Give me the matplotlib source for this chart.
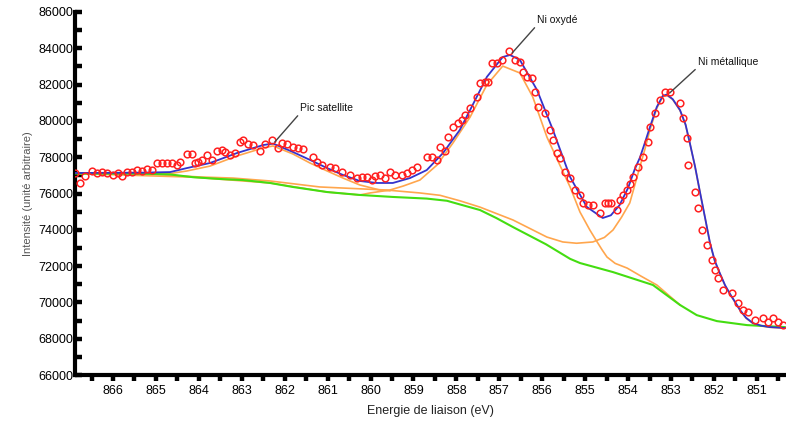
import matplotlib
matplotlib.use("Agg")
import matplotlib.pyplot as plt
from matplotlib.ticker import MultipleLocator

plt.rcParams['font.family'] = ['Liberation Sans', 'DejaVu Sans']

# ---------------- data ----------------
data_e = [866.88, 866.77, 866.65, 866.49, 866.37, 866.26, 866.14, 866.00, 865.88, 865.79,
          865.67, 865.56, 865.44, 865.32, 865.21, 865.09, 864.98, 864.86, 864.74, 864.63,
          864.51, 864.44, 864.28, 864.16, 864.09, 864.02, 863.93, 863.81, 863.69, 863.58,
          863.46, 863.39, 863.28, 863.16, 863.04, 862.97, 862.86, 862.74, 862.58, 862.46,
          862.30, 862.16, 862.06, 861.95, 861.81, 861.69, 861.58, 861.34, 861.25, 861.13,
          860.95, 860.83, 860.67, 860.48, 860.32, 860.20, 860.08, 859.97, 859.90, 859.78,
          859.66, 859.55, 859.43, 859.27, 859.15, 859.04, 858.92, 858.69, 858.57, 858.45,
          858.38, 858.27, 858.20, 858.08, 857.96, 857.87, 857.80, 857.68, 857.52, 857.45,
          857.33, 857.26, 857.17, 857.05, 856.94, 856.78, 856.64, 856.52, 856.45, 856.36,
          856.24, 856.17, 856.10, 855.94, 855.82, 855.75, 855.66, 855.59, 855.47, 855.35,
          855.24, 855.12, 855.05, 854.94, 854.82, 854.66, 854.54, 854.47, 854.39, 854.26,
          854.19, 854.12, 854.03, 853.96, 853.89, 853.77, 853.65, 853.54, 853.49, 853.38,
          853.26, 853.14, 853.03, 852.79, 852.72, 852.63, 852.61, 852.44, 852.37, 852.28,
          852.16, 852.05, 851.98, 851.91, 851.79, 851.58, 851.44, 851.33, 851.21, 851.05,
          850.86, 850.74, 850.63, 850.51, 850.39]
data_i = [77130, 76580, 76960, 77240, 77130, 77180, 77130, 77020, 77130, 76960,
          77180, 77180, 77290, 77240, 77350, 77290, 77680, 77680, 77680, 77680,
          77570, 77730, 78180, 78180, 77680, 77730, 77840, 78120, 77840, 78340,
          78400, 78290, 78120, 78230, 78840, 78950, 78730, 78670, 78340, 78730,
          78950, 78510, 78780, 78730, 78560, 78510, 78450, 78010, 77730, 77570,
          77460, 77400, 77180, 77020, 76850, 76910, 76910, 76740, 76960, 77020,
          76850, 77180, 77020, 77020, 77130, 77290, 77460, 78010, 78010, 77840,
          78560, 78340, 79110, 79660, 79880, 80050, 80330, 80710, 81320, 82090,
          82140, 82140, 83190, 83190, 83360, 83850, 83360, 83250, 82690, 82420,
          82360, 81590, 80770, 80430, 79500, 78950, 78230, 77960, 77180, 76850,
          76190, 75920, 75480, 75370, 75370, 74930, 75480, 75480, 75480, 75090,
          75640, 75910, 76190, 76500, 76910, 77460, 78010, 78840, 79660, 80430,
          81150, 81590, 81590, 80990, 80160, 79060, 77570, 76080, 75200, 73990,
          73160, 72340, 71780, 71340, 70680, 70520, 69970, 69580, 69470, 69030,
          69140, 68920, 69140, 68920, 68750]

fit_e = [866.88, 865.30, 864.67, 864.28, 863.74, 863.11, 862.50, 862.27, 861.81, 861.41,
         861.01, 860.64, 860.25, 859.85, 859.48, 859.08, 858.69, 858.31, 857.92, 857.68,
         857.29, 856.92, 856.75, 856.52, 856.12, 855.75, 855.35, 854.96, 854.59, 854.40,
         854.20, 854.00, 853.85, 853.72, 853.60, 853.49, 853.33, 853.19, 853.10, 852.96,
         852.79, 852.66, 852.56, 852.44, 852.32, 852.20, 852.09, 851.98, 851.86, 851.74,
         851.62, 851.50, 851.39, 851.25, 851.09, 850.90, 850.70, 850.35]
fit_i = [77130, 77150, 77180, 77400, 77680, 78230, 78670, 78750, 78290, 77850,
         77400, 77020, 76690, 76580, 76580, 76850, 77290, 78230, 79500, 80600,
         82420, 83520, 83630, 83360, 81700, 79500, 76910, 75260, 74650, 74800,
         75350, 76300, 77300, 78000, 78850, 79660, 80770, 81380, 81450, 81200,
         80600, 79800, 78780, 77500, 76030, 74600, 73270, 72300, 71600, 70950,
         70450, 70000, 69580, 69150, 68860, 68720, 68640, 68590]

bg_e = [866.88, 865.30, 864.67, 864.14, 863.51, 862.97, 862.34, 861.81, 861.01, 860.25,
        859.48, 858.69, 858.22, 857.92, 857.45, 857.07, 856.68, 855.91, 855.35, 855.12,
        854.35, 853.42, 852.79, 852.40, 851.93, 851.23, 850.35]
bg_i = [77100, 77090, 77050, 76900, 76800, 76740, 76580, 76360, 76080, 75920,
        75810, 75720, 75600, 75400, 75090, 74650, 74150, 73200, 72400, 72170,
        71670, 70960, 69860, 69300, 68970, 68750, 68640]

sat_e = [866.88, 865.30, 864.67, 864.28, 863.74, 863.11, 862.50, 862.27, 861.81, 861.41,
         861.01, 860.64, 860.25, 859.78, 859.55]
sat_i = [77100, 77090, 77100, 77240, 77510, 78070, 78510, 78620, 78180, 77680,
         77240, 76850, 76470, 76190, 76150]

ox_e = [866.88, 864.14, 862.34, 861.01, 860.25, 860.01, 859.55, 859.24, 858.85, 858.45,
        858.08, 857.68, 857.29, 856.92, 856.52, 856.22, 855.89, 855.59, 855.35, 855.12,
        854.89, 854.72, 854.60, 854.49, 854.30, 854.02, 853.70, 853.33, 852.79]
ox_i = [77100, 76900, 76580, 76080, 75920, 76030, 76190, 76410, 76740, 77570,
        78780, 80210, 81980, 83020, 82640, 81320, 79110, 77570, 76360, 74980,
        73990, 73330, 72880, 72500, 72150, 71890, 71450, 70960, 69860]

met_e = [866.88, 865.30, 863.97, 863.20, 862.34, 861.18, 859.62, 858.85, 858.38, 857.92,
         857.45, 856.68, 855.89, 855.52, 855.20, 854.82, 854.55, 854.35, 854.15, 853.96,
         853.85, 853.72, 853.60, 853.49, 853.33, 853.19, 853.10, 852.96, 852.79, 852.66,
         852.56, 852.44, 852.32, 852.20, 852.09, 851.98, 851.86, 851.74, 851.62, 851.50,
         851.39, 851.25, 851.09, 850.90, 850.70, 850.35]
met_i = [77100, 77090, 76910, 76850, 76690, 76360, 76190, 76030, 75900, 75600,
         75250, 74540, 73600, 73330, 73260, 73330, 73580, 73990, 74700, 75480,
         76400, 77500, 78500, 79500, 80700, 81330, 81420, 81180, 80580, 79780,
         78760, 77480, 76010, 74580, 73250, 72280, 71580, 70930, 70430, 69980,
         69560, 69130, 68840, 68700, 68630, 68580]

x_ticks = [866, 865, 864, 863, 862, 861, 860, 859, 858, 857, 856, 855, 854, 853, 852, 851]
y_ticks = [66000, 68000, 70000, 72000, 74000, 76000, 78000, 80000, 82000, 84000, 86000]

labels = ["Pic satellite", "Ni oxydé", "Ni métallique"]
label_xy = [(862.23, 78840), (856.70, 83740), (853.03, 81540)]
label_txt = [(861.64, 80710), (856.12, 85560), (852.37, 83245)]

# ---------------- figure ----------------
fig = plt.figure(figsize=(7.86, 4.25), dpi=100)
ax = fig.add_axes([0.0954, 0.1176, 0.9046, 0.8542])

orange = '#ffa64d'
ax.plot(sat_e, sat_i, color=orange, lw=1.2, zorder=2)
ax.plot(ox_e, ox_i, color=orange, lw=1.2, zorder=2)
ax.plot(met_e, met_i, color=orange, lw=1.2, zorder=2)
ax.plot(bg_e, bg_i, color='#44dd11', lw=1.5, zorder=3)
ax.plot(fit_e, fit_i, color='#3333cc', lw=1.3, zorder=4)
ax.plot(data_e, data_i, linestyle='none', marker='o', ms=4.8, mfc='none',
        mec='#ff2020', mew=1.1, zorder=5)

for lab, xy, xt in zip(labels, label_xy, label_txt):
    ax.annotate(lab, xy=xy, xytext=xt, ha='left', va='center', fontsize=7.5,
                color='#111111',
                arrowprops=dict(arrowstyle='-', color='#444444', lw=1.0,
                                relpos=(0, 0), shrinkA=0, shrinkB=0), zorder=6)

ax.set_xlim(866.885, 850.32)
ax.set_ylim(66000, 86000)
ax.set_xticks(x_ticks)
ax.set_xticklabels([str(v) for v in x_ticks])
ax.xaxis.set_minor_locator(MultipleLocator(0.5))
ax.set_yticks(y_ticks)
ax.set_yticklabels([str(v) for v in y_ticks])
ax.yaxis.set_minor_locator(MultipleLocator(1000))

for s in ['top', 'right']:
    ax.spines[s].set_visible(False)
for s in ['left', 'bottom']:
    ax.spines[s].set_linewidth(3.0)
    ax.spines[s].set_color('black')

ax.tick_params(axis='x', which='both', direction='out', length=4, width=3.2,
               labelsize=9, pad=3)
ax.tick_params(axis='y', which='both', direction='in', length=5, width=3.2,
               labelsize=9, pad=1)

ax.set_xlabel('Energie de liaison (eV)', fontsize=9, color='#222222', labelpad=6)
ax.set_ylabel('Intensité (unité arbitraire)', fontsize=8, color='#555555', labelpad=4)

fig.savefig('out.png', dpi=100)
